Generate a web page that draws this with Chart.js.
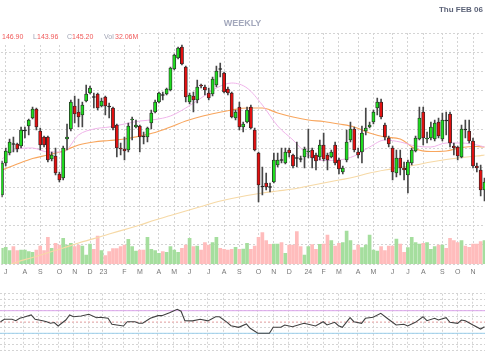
<!DOCTYPE html>
<html><head><meta charset="utf-8">
<script src="https://cdn.jsdelivr.net/npm/chart.js@4.4.1/dist/chart.umd.min.js"></script>
<style>
html,body{margin:0;padding:0;background:#fff;}
body{width:485px;height:360px;position:relative;overflow:hidden;font-family:"Liberation Sans",Arial,sans-serif;}
#date{position:absolute;right:2px;top:5px;font-weight:bold;font-size:8px;color:#5c6378;}
#title{position:absolute;left:0;width:485px;top:18px;text-align:center;font-weight:bold;font-size:9px;color:#a3a8bc;}
#hdr{position:absolute;left:0;top:29px;width:140px;height:15px;background:#fff;font-size:7px;}
#hdr span{position:absolute;top:4px;line-height:8px;}
.v{color:#f05a5a}.k{color:#a0a4b4}
#c1{position:absolute;left:0;top:0;}
#c2{position:absolute;left:0;top:285px;}
</style></head><body>
<canvas id="c1" width="485" height="280"></canvas>
<canvas id="c2" width="485" height="75"></canvas>
<div id="title">WEEKLY</div>
<div id="date">Thu FEB 06</div>
<div id="hdr"><span class="v" style="left:2px">146.90</span><span class="k" style="left:33px">L</span><span class="v" style="left:37px">143.96</span><span class="k" style="left:67px">C</span><span class="v" style="left:72px">145.20</span><span class="k" style="left:104px">Vol</span><span class="v" style="left:115px">32.06M</span></div>
<script>
// ---- weekly OHLC (one bar per week, oldest first) ----
const open = [
 105,137,147,156,156,154,169,174,182,191,
 169,163,163,141,144,126,122,161,171,194,
 188,185,199,207,203,206,194,203,193.5,192,
 175,152,151,150,180,173,174,163.5,163,177,
 188,198,205,206,210,231,242,253,233,198,
 204,200,215,213,207,206,215,231,227,211,
 207,182,193,173,178,193,170,147,113.5,117,
 113,118,135,140,137,150,145,142,141,143,
 148,150,145,143,155,145,143,155,140,128,
 140,160,171,148,148,169,173,178,192,198,
 175,162,152,127,142,132,125,137,149,161,
 188,161,162,161,178,161,179.5,186,154,153,
 143,170.5,169,159,134,130,110];
const high = [
 139,152,161,163,157,173,173,181,193,192,
 172,164,164,148,152,128,154,176,200,204,
 201,198,215,214,207,207,202,204,197,193,
 176,157,163,177,183,180,175,168,173,190,
 200,208,208,212,233,246,253,255,234,207,
 208,220,216,215,212,223,234,237,228,213,
 208,190,198,178,193,195,172,148,133,127,
 117,147,147,152,152,152,146,158,144,153,
 171,152,147,160,167,147,150,158,142,134,
 170,178,173,152,174,192,178,190,202,201,
 177,164,154,150,150,138,140,152,164,193,
 193,168,178,180,182,187,188,188,157,154,
 175,180,180,162,137,135,122];
const low = [
 103,134,145,148,148,152,162,165,181,170,
 150,153,138,139,125,118,120,150,169,177,
 173,173,198,206,192,190,193,185,182,170,
 143,145,140,148,160,172,148,156,158,171,
 187,197,200,205,209,230,241,235,198,196,
 188,197,212,205,200,204,213,223,207,205,
 182,180,170,168,177,171,149,98,105,110,
 108,117,133,137,136,143,132,133,138,132,
 142,132,130,140,139,130,142,135,126,126,
 138,158,148,142,137,165,172,176,185,181,
 160,153,120,123,125,120,107,135,148,160,
 155,157,160,159,162,159,165,153,145,140,
 142,162,157,132,128,104,99];
const close = [
 137,149,158,155.5,151,170,169.5,180,191,173,
 155,155,140,145,127,120,152,163,198,186,
 183,195,206,212,202.5,192,199,194,193,172,
 152,151,149,174,181,175,163,163,172,187,
 198,207,204.5,211,232,245,252,236,203,205,
 200,213,214,210,202,221,229,230.5,208,207,
 183,188,173,176,190,172,150,115,113,113,
 112.5,140,140,139.5,148,147,134,141.5,140.5,151,
 149,142,139,155,141,140,148,137,131,132,
 158,171,150,145,167,172,175,188,198,183,
 163,156,128,142,132,130,138,150,162,182,
 162,162,173,177,164,180,179,157,152,144,
 171,170,159,134,132,110,118];
// weekly volume, millions
const volume = [
 15.7,16.7,13.3,17.3,13.3,14,14,12.3,11.7,14,
 18,13.3,26.7,15.7,20.7,19,25.7,19,20.7,17.3,
 19,18,9,20,14.7,28,13.3,8.3,12.3,15.3,
 15.3,17.3,19,24.7,17.3,13,14,14,26.7,14.7,
 13.3,10.7,12.3,11.7,17.3,14,11.7,15.7,19,25.7,
 17.3,18,14,21.3,19,21.3,26.7,15.7,14.7,14,
 14.7,16.7,14.7,15,20.7,14.7,18,26.7,31.3,23.3,
 19.7,20,20,21.3,10.7,19,19,32.3,17.3,9,
 17.3,19.3,14.7,19.7,20,29,23.3,18,20.7,21.3,
 33,23.3,14,19,16.3,19,29,14,13,17.3,
 13.3,18,18,25,20,11.7,16.3,26.7,21.3,20,
 20.7,21.3,14.7,17.3,19,19,15.7,25.7,23.3,21.3,
 23.3,18,16.7,20,20,22.3,23.3];
// moving averages read at these week positions
const maIdx  = [0,4,8,12,16,20,24,28,32,36,40,44,48,52,56,60,64,68,72,76,80,84,88,92,96,100,104,108,112,116,120,124,126];
const maFast = [141,151,152,148,148,165,171,173,176,179,180.5,184,192,202,212,217,212,195,174,160,145,139.5,140,144,153,160,158,154,153,157,157,155,153];
const maMid  = [130,136,141.5,145,149,155,158,159.5,161,164,167.5,173,179,183.5,187,190,192,192,187,183,180,178.5,176,173,167,163,161,151,148.5,149,152.5,153.5,153];
const maSlow = [32,38,42.5,47.3,52,57,61.3,66,70.4,75,80,84.5,89,93.5,98,101.5,104.5,107,109,111,114,117,120,123,127,130,132.5,135,138,140.5,142.5,144,145];
// RSI oscillator
const rsiIdx = [0,1,3,4,5,6,8,9,11,12,13,14,15,17,18,19,21,23,25,26,28,29,32,33,35,36,37,39,41,42,44,46,47,48,50,52,54,56,57,59,60,62,64,65,67,70,71,73,74,76,79,82,84,85,87,88,89,91,92,94,95,97,99,101,103,105,106,108,110,111,113,114,116,117,119,120,121,123,125,126];
const rsiVal = [50.5,54.8,54.8,52.3,56.5,58.3,62.4,54.8,52.3,50.5,47.7,49,42.9,53.5,62.4,59.4,60.5,63.6,57.6,58.3,56.5,45.9,42.9,50.5,50.5,47.7,47.7,56.5,61.2,61.2,66.5,72.4,69,52.3,52,54.8,52,59.4,59.4,49.4,43.5,40.6,46.5,38.8,30,30,40.6,40.6,44.7,41.7,47.7,42.9,50.5,44.7,49.4,43.5,40.6,57.6,50.5,47.7,56.5,58.3,65.4,54.8,44.7,45.9,42.9,49.4,59.4,52.3,56.5,53.5,57.6,49.4,47.7,53.5,52.3,44.7,37.6,41.7];
const rsiUpper = 70, rsiMid = 50, rsiLower = 30;
// month ticks (week index of first week in month)
const tickIdx = [1,6,10,15,19,23,26.5,32,36,41,45,49,54,58,62,67,71,75,80,84,88,93,97,102,106,110,115,119,123];
const tickLbl = ['J','A','S','O','N','D','23','F','M','A','M','J','J','A','S','O','N','D','24','F','M','A','M','J','J','A','S','O','N'];

const X_MIN = -0.13, X_MAX = 126.13;
const P_MIN = 36, P_MAX = 267, P_STEP = 19.25;
const GRID = '#d4d4d4';
const weeks = open.map((_, i) => i);
const isUp = i => close[i] >= open[i];
const isDoji = i => Math.abs(close[i] - open[i]) < 1;
const pts = (xs, ys) => xs.map((x, k) => ({x, y: ys[k]}));

const xScale = (labels) => ({
  type: 'linear', min: X_MIN, max: X_MAX, offset: false,
  grid: {color: GRID, drawTicks: false, offset: false},
  border: {display: false, dash: [2, 2]},
  afterBuildTicks: ax => { ax.ticks = tickIdx.map(v => ({value: v})); },
  ticks: {display: labels, autoSkip: false, maxRotation: 0, padding: 4,
          color: '#777', font: {size: 7, family: '"Liberation Sans", Arial, sans-serif'},
          callback: (v, i) => tickLbl[i]},
  afterFit: s => { s.height = labels ? 16 : 0; }
});

Chart.defaults.font.family = '"Liberation Sans", Arial, sans-serif';

new Chart(document.getElementById('c1'), {
  type: 'bar',
  data: {datasets: [
    {type: 'bar', data: pts(weeks, weeks.map(i => [open[i], close[i]])), yAxisID: 'y', grouped: false, order: 0,
     barThickness: 3.2, minBarLength: 1, borderWidth: 0.8, borderSkipped: false, borderColor: '#262626',
     backgroundColor: c => isDoji(c.dataIndex) ? '#222' : (isUp(c.dataIndex) ? '#1fdc1f' : '#e21010')},
    {type: 'bar', data: pts(weeks, weeks.map(i => [low[i], high[i]])), yAxisID: 'y', grouped: false, order: 1,
     barThickness: 1, backgroundColor: '#474747', borderWidth: 0},
    {type: 'line', data: pts(maIdx, maFast), yAxisID: 'y', order: 2, borderColor: '#f0b4ea', borderWidth: 1,
     pointRadius: 0, cubicInterpolationMode: 'monotone'},
    {type: 'line', data: pts(maIdx, maMid), yAxisID: 'y', order: 3, borderColor: '#f8a65e', borderWidth: 1.2,
     pointRadius: 0, cubicInterpolationMode: 'monotone'},
    {type: 'line', data: pts(maIdx, maSlow), yAxisID: 'y', order: 4, borderColor: '#f6d9a6', borderWidth: 1.2,
     pointRadius: 0, cubicInterpolationMode: 'monotone'},
    {type: 'bar', data: pts(weeks, volume), yAxisID: 'yv', grouped: false, order: 5, barThickness: 3,
     borderWidth: 0, backgroundColor: c => isUp(c.dataIndex) ? '#a5de9e' : '#ffbcbc'}
  ]},
  options: {
    responsive: false, animation: false,
    layout: {padding: {top: 33, left: 0, right: 0, bottom: 0}},
    plugins: {legend: {display: false}, tooltip: {enabled: false}},
    scales: {
      x: xScale(true),
      y: {position: 'left', min: P_MIN, max: P_MAX,
          grid: {color: GRID, drawTicks: false}, border: {display: false, dash: [2, 2]},
          ticks: {display: false},
          afterBuildTicks: ax => { const t = []; for (let v = P_MIN; v <= P_MAX + 0.01; v += P_STEP) t.push({value: v}); ax.ticks = t; },
          afterFit: s => { s.width = 0; }},
      yv: {display: false, min: 0, max: 231}
    }
  }
});

new Chart(document.getElementById('c2'), {
  type: 'line',
  data: {datasets: [
    {data: pts(rsiIdx, rsiVal), borderColor: '#404040', borderWidth: 1.1, pointRadius: 0, tension: 0},
    {data: [{x: X_MIN, y: rsiUpper}, {x: X_MAX, y: rsiUpper}], borderColor: '#dca6ec', borderWidth: 1, pointRadius: 0},
    {data: [{x: X_MIN, y: rsiMid}, {x: X_MAX, y: rsiMid}], borderColor: '#f5b0b0', borderWidth: 1, borderDash: [2, 2], pointRadius: 0},
    {data: [{x: X_MIN, y: rsiLower}, {x: X_MAX, y: rsiLower}], borderColor: '#9ccfeb', borderWidth: 1, pointRadius: 0}
  ]},
  options: {
    responsive: false, animation: false,
    layout: {padding: {top: 8.75, bottom: 9.75, left: 0, right: 0}},
    plugins: {legend: {display: false}, tooltip: {enabled: false}},
    scales: {
      x: xScale(false),
      y: {min: 0, max: 100, grid: {color: GRID, drawTicks: false}, border: {display: false, dash: [2, 2]},
          ticks: {display: false, stepSize: 10}, afterFit: s => { s.width = 0; }}
    }
  }
});
</script>
</body></html>
